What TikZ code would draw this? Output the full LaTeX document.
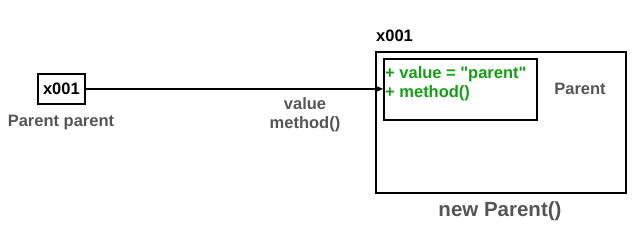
\documentclass[tikz,border=0pt]{standalone}
\usepackage{fontspec}
\setmainfont{Liberation Sans}
\newfontfamily\plainsans{Liberation Sans}
\usetikzlibrary{arrows.meta}
\definecolor{lbl}{HTML}{555555}
\definecolor{grn}{HTML}{12A012}
\tikzset{
  box/.style={draw=black, line width=1.8pt, inner sep=0pt},
  lab/.style={text=lbl, font=\fontsize{16.5}{18}\selectfont\bfseries, inner sep=0pt},
  blab/.style={text=black, font=\fontsize{16.5}{18}\selectfont\bfseries, inner sep=0pt},
  glab/.style={text=grn, font=\plainsans\fontsize{16.5}{18}\selectfont\bfseries, inner sep=0pt, anchor=west},
}
\begin{document}
\begin{tikzpicture}[x=1pt,y=-1pt]
\useasboundingbox (0,0) rectangle (634,228);
% small box
\node[box, minimum width=47pt, minimum height=30pt, anchor=north west, label={[blab]center:x001}] (ref) at (37,73) {};
\node[lab] (refname) at (61,123) {Parent parent};
% big box
\node[box, minimum width=250pt, minimum height=141pt, anchor=north west] (obj) at (375,51) {};
\node[blab, anchor=west] (addr) at (376,36) {x001};
\node[lab] (cls) at (580,89) {Parent};
\node[lab, font=\fontsize{20.5}{22}\selectfont\bfseries] (newp) at (500,211) {new Parent()};
% inner box
\node[box, minimum width=153pt, minimum height=61pt, anchor=north west] (inner) at (383,58) {};
\node[glab] (f1) at (385,74) {+ value = "parent"};
\node[glab] (f2) at (385,93) {+ method()};
% arrow
\draw[line width=1.8pt, -{Stealth[length=7pt,width=6pt]}] (ref.east) -- (ref.east -| inner.west);
\node[lab] (m1) at (305,104) {value};
\node[lab] (m2) at (305,124) {method()};
\end{tikzpicture}
\end{document}
